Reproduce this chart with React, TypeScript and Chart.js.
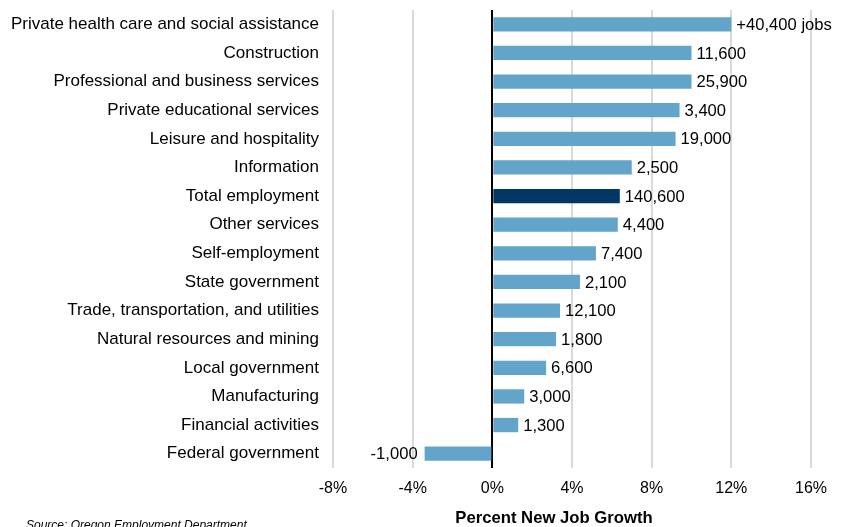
import React, { useEffect, useRef } from "react";
import { Chart, registerables } from "chart.js";

Chart.register(...registerables);

const categories = [
  "Private health care and social assistance",
  "Construction",
  "Professional and business services",
  "Private educational services",
  "Leisure and hospitality",
  "Information",
  "Total employment",
  "Other services",
  "Self-employment",
  "State government",
  "Trade, transportation, and utilities",
  "Natural resources and mining",
  "Local government",
  "Manufacturing",
  "Financial activities",
  "Federal government",
];

const growthPercent = [12.0, 10.0, 10.0, 9.4, 9.2, 7.0, 6.4, 6.3, 5.2, 4.4, 3.4, 3.2, 2.7, 1.6, 1.3, -3.4];

const jobLabels = [
  "+40,400 jobs", "11,600", "25,900", "3,400", "19,000", "2,500", "140,600", "4,400",
  "7,400", "2,100", "12,100", "1,800", "6,600", "3,000", "1,300", "-1,000",
];

const xTicks = [-8, -4, 0, 4, 8, 12, 16];

const axisTitle = "Percent New Job Growth";
const sourceNote = "Source: Oregon Employment Department";

const FONT = "'Liberation Sans', Arial, sans-serif";
const BAR = "#62a4ca";
const TOTAL = "#003764";

const labelPlugin = {
  id: "barLabels",
  afterDatasetsDraw(chart: any) {
    const { ctx } = chart;
    const meta = chart.getDatasetMeta(0);
    ctx.save();
    ctx.font = `16.6px ${FONT}`;
    ctx.fillStyle = "#000";
    ctx.textBaseline = "middle";
    meta.data.forEach((bar: any, i: number) => {
      const v = growthPercent[i];
      if (v >= 0) {
        ctx.textAlign = "left";
        ctx.fillText(jobLabels[i], bar.x + 5, bar.y + 1);
      } else {
        ctx.textAlign = "right";
        ctx.fillText(jobLabels[i], bar.x - 7, bar.y + 1);
      }
    });
    ctx.restore();
  },
  afterDraw(chart: any) {
    const { ctx } = chart;
    ctx.save();
    ctx.fillStyle = "#000";
    ctx.textBaseline = "middle";
    ctx.textAlign = "center";
    ctx.font = `bold 16.7px ${FONT}`;
    ctx.fillText(axisTitle, 554, 518);
    ctx.font = `italic 12px ${FONT}`;
    ctx.textAlign = "left";
    ctx.textBaseline = "alphabetic";
    ctx.fillText(sourceNote, 26, 529);
    ctx.restore();
  },
};

export default function App() {
  const ref = useRef<HTMLCanvasElement>(null);
  useEffect(() => {
    if (!ref.current) return;
    const chart = new Chart(ref.current, {
      type: "bar",
      data: {
        labels: categories,
        datasets: [
          {
            data: growthPercent,
            backgroundColor: categories.map((c) => (c === "Total employment" ? TOTAL : BAR)),
            barPercentage: 0.5,
            categoryPercentage: 1,
          },
        ],
      },
      options: {
        indexAxis: "y",
        animation: false,
        responsive: true,
        maintainAspectRatio: false,
        layout: { padding: { top: 10, right: 33, left: 0, bottom: 0 } },
        plugins: { legend: { display: false }, tooltip: { enabled: false } },
        scales: {
          x: {
            type: "linear",
            min: -8,
            max: 16,
            afterBuildTicks: (scale: any) => {
              scale.ticks = xTicks.map((v) => ({ value: v }));
            },
            ticks: {
              callback: (v: any) => `${v}%`,
              color: "#000",
              font: { family: FONT, size: 16 },
              padding: 11,
              maxRotation: 0,
            },
            grid: {
              drawTicks: false,
              color: (c: any) => (c.tick && c.tick.value === 0 ? "#000" : "#d9d9d9"),
              lineWidth: 2,
              z: 0,
            },
            border: { display: false },
            afterFit: (scale: any) => {
              scale.height = 59;
              scale.paddingLeft = 0;
              scale.paddingRight = 0;
            },
          },
          y: {
            ticks: {
              color: "#000",
              font: { family: FONT, size: 17 },
              padding: 14,
              autoSkip: false,
            },
            grid: { display: false, drawTicks: false },
            border: { display: false },
            afterFit: (scale: any) => {
              scale.width = 333;
              scale.paddingTop = 0;
              scale.paddingBottom = 0;
            },
          },
        },
      },
      plugins: [labelPlugin],
    } as any);
    return () => chart.destroy();
  }, []);
  return (
    <div style={{ position: "absolute", left: 0, top: 0, width: 844, height: 527, background: "#fff" }}>
      <canvas ref={ref} />
    </div>
  );
}
